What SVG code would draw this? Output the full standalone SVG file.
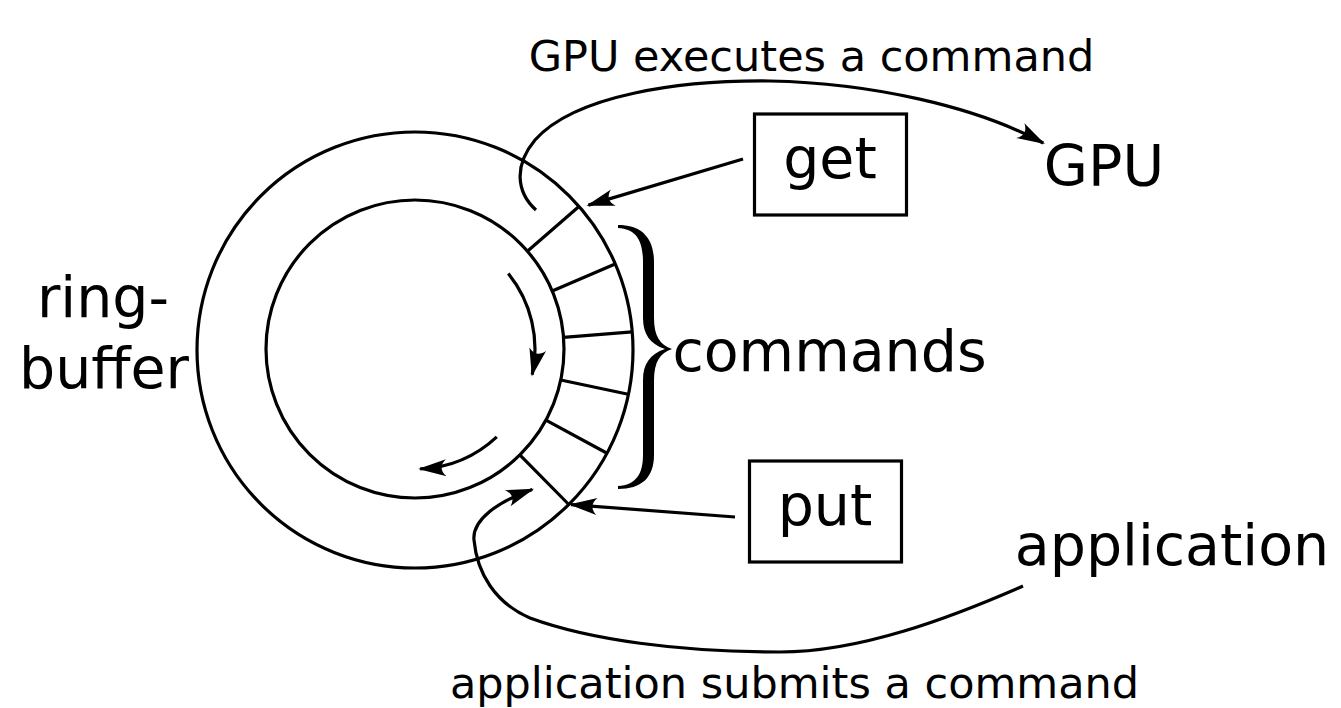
<svg xmlns="http://www.w3.org/2000/svg" width="1341" height="708" viewBox="0 0 1341 708">
<style>
.ln{fill:none;stroke:#000;stroke-width:3.2}
.big{font-family:"DejaVu Sans","Liberation Sans",sans-serif;font-size:57px;fill:#000;text-anchor:middle}
.sm{font-family:"DejaVu Sans","Liberation Sans",sans-serif;font-size:43px;fill:#000;text-anchor:middle}
</style>
<defs>
<marker id="ah" markerUnits="userSpaceOnUse" orient="auto" refX="0" refY="0" overflow="visible">
<path d="M 2,0 L -26,-8.5 C -20,-3 -20,3 -26,8.5 Z" fill="#000"/>
</marker>
</defs>
<rect width="1341" height="708" fill="#fff"/>
<g id="ringbuffer">
<circle class="ln" cx="415" cy="350" r="218"/>
<circle class="ln" cx="415" cy="349" r="149"/>
<path class="ln" d="M527.4,251.2 L579.5,206 M552.2,291 L615.7,263.8 M563.5,337.3 L632.3,331.9 M560.7,380 L628.2,394.3 M545.9,420.1 L606.6,453 M519.8,454.9 L568.3,504"/>
<text class="big" x="103" y="317">ring-</text>
<text class="big" x="104" y="388">buffer</text>
</g>
<g id="commands">
<path fill="#000" d="M 618,225 C 640,225 654,236 654,262 L 654,318 C 654,336 660,345 672,349 C 660,353 654,362 654,380 L 654,455 C 654,478 641,489 618,489 L 618,486 C 636,485 643,474 643,455 L 643,380 C 643,364 650,354 665,349 C 650,344 643,334 643,318 L 643,262 C 643,240 636,229 618,228 Z"/>
<text class="big" x="829.5" y="371">commands</text>
</g>
<g id="get">
<rect class="ln" x="754.5" y="114" width="152" height="101"/>
<text class="big" x="830" y="178">get</text>
</g>
<g id="put">
<rect class="ln" x="749.5" y="461" width="152" height="101"/>
<text class="big" x="825" y="525">put</text>
</g>
<g id="gpu">
<text class="big" x="1104" y="186">GPU</text>
</g>
<g id="application">
<text class="big" x="1172" y="565">application</text>
</g>
<g id="connectors">
<path class="ln" marker-end="url(#ah)" d="M743,159 L588.4,205.1"/>
<path class="ln" marker-end="url(#ah)" d="M735,517 L571,504.6"/>
<path class="ln" marker-end="url(#ah)" d="M536,210 C516,192 514,165 535,140 C575,95 680,80 770,81 C870,83 975,106 1043.2,143"/>
<path class="ln" marker-end="url(#ah)" d="M1023,586 C950,618 860,652 780,652 C680,652 590,640 530,618 C495,603 477,573 474,540 C472,520 497,502 532.2,489.4"/>
<path class="ln" marker-end="url(#ah)" d="M508.3,273.5 A120,120 0 0 1 532.2,374.6"/>
<path class="ln" marker-end="url(#ah)" d="M496.8,436.8 A120,120 0 0 1 420.2,468.9"/>
<text class="sm" x="811.5" y="71">GPU executes a command</text>
<text class="sm" x="794.5" y="698">application submits a command</text>
</g>
</svg>
